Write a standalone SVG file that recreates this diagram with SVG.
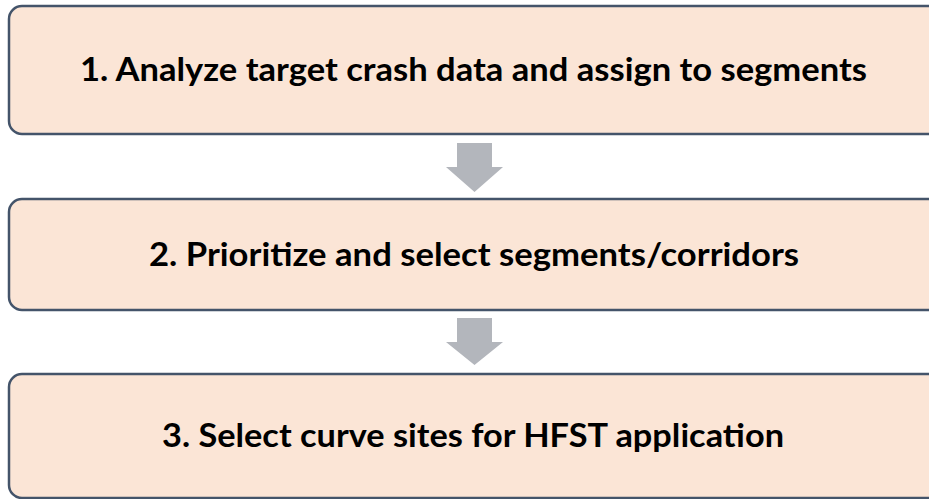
<svg xmlns="http://www.w3.org/2000/svg" width="929" height="499" viewBox="0 0 929 499">
  <style>
    .step { fill: #FBE5D6; stroke: #44546A; stroke-width: 2.5; }
    .label { font-family: "Lato", "Liberation Sans", sans-serif; font-weight: bold; font-size: 32px; fill: #000000; text-anchor: middle; }
    .flow { fill: #B3B6BC; }
  </style>
  <rect width="929" height="499" fill="#FFFFFF"/>

  <g id="step1">
    <rect class="step" x="9" y="6" width="940" height="128" rx="13" ry="13"/>
    <text class="label" x="473.5" y="81" textLength="787" lengthAdjust="spacingAndGlyphs">1. Analyze target crash data and assign to segments</text>
  </g>

  <g id="step2">
    <rect class="step" x="9" y="199" width="940" height="111" rx="13" ry="13"/>
    <text class="label" x="474" y="266" textLength="650" lengthAdjust="spacingAndGlyphs">2. Prioritize and select segments/corridors</text>
  </g>

  <g id="step3">
    <rect class="step" x="9" y="374" width="940" height="124" rx="13" ry="13"/>
    <text class="label" x="473" y="447" textLength="622" lengthAdjust="spacingAndGlyphs">3. Select curve sites for HFST application</text>
  </g>

  <g id="connectors">
    <polygon class="flow" points="457,143 492,143 492,167 503,167 474.5,192 446,167 457,167"/>
    <polygon class="flow" points="457,318 492,318 492,342 503,342 474.5,365 446,342 457,342"/>
  </g>
</svg>
